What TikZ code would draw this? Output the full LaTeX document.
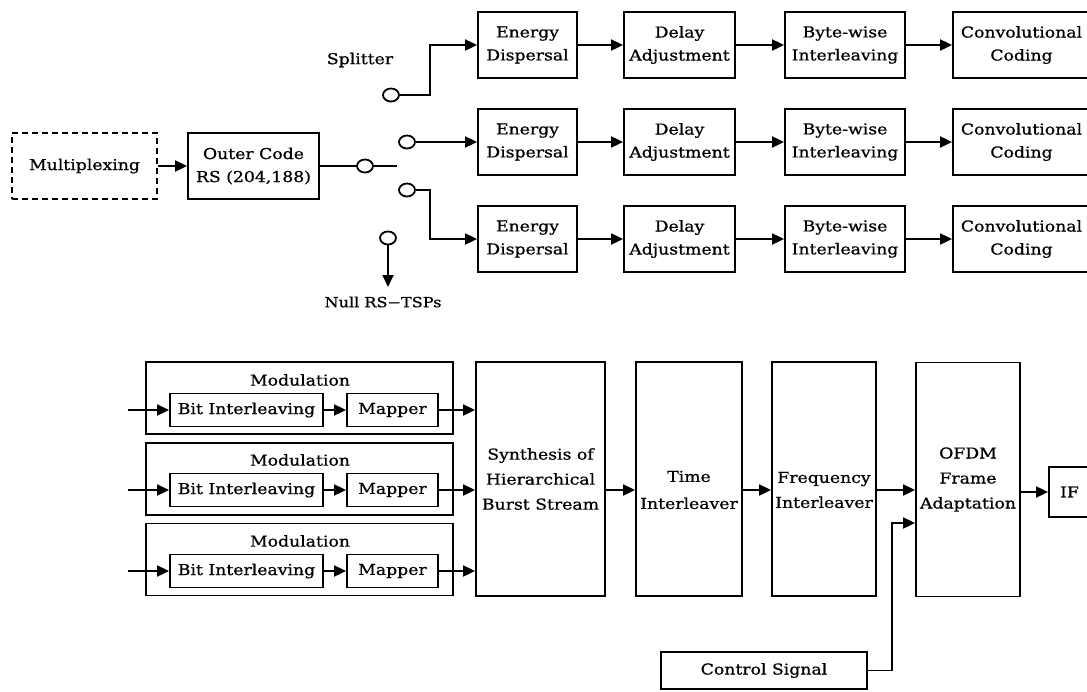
\documentclass[tikz,border=0pt]{standalone}
\usepackage{fontspec}
\setmainfont{DejaVu Serif}[FakeStretch=1.15,FakeBold=0.8]
\usetikzlibrary{arrows.meta,shapes.geometric}
\begin{document}
\begin{tikzpicture}[x=1pt,y=-1pt,line width=1.8pt,
  box/.style={draw,align=center,inner sep=0pt,font=\fontsize{15}{23}\selectfont},
  txt/.style={align=center,inner sep=0pt,font=\fontsize{15}{23}\selectfont},
  circ/.style={draw,ellipse,minimum width=16pt,minimum height=13pt,inner sep=0pt,fill=white},
  arr/.style={-{Triangle[length=12pt,width=11pt]}},
  eb/.style={box,minimum width=99pt,minimum height=66pt},
  db/.style={box,minimum width=111pt,minimum height=66pt},
  bb/.style={box,minimum width=120pt,minimum height=66pt},
  cb/.style={box,minimum width=137pt,minimum height=66pt},
  modbox/.style={draw,minimum width=307pt,minimum height=72pt},
  bib/.style={box,minimum width=153pt,minimum height=33pt},
  mpb/.style={box,minimum width=91pt,minimum height=33pt},
  tall/.style={box,minimum height=234pt}]
\useasboundingbox (0,0) rectangle (1087,691);
\clip (0,0) rectangle (1087,691);

% ---------- top section ----------
\node[box,dash pattern=on 6pt off 4pt,minimum width=145pt,minimum height=66pt] (mux) at (84.5,166) {Multiplexing};
\node[box,minimum width=131pt,minimum height=66pt] (outer) at (253.5,166) {Outer Code\\RS (204,188)};
\draw[arr] (mux) -- (outer);

\node[circ] (c0) at (365,166) {};
\coordinate (sw) at (397,166);
\draw (outer.east) -- (c0) -- (sw);

\node[circ] (cS) at (391,95) {};
\node[circ] (cU) at (407,142) {};
\node[circ] (cL) at (407,190) {};
\node[circ] (cN) at (388,238) {};
\node[txt] (split) at (360,60) {Splitter};
\node[txt,font=\fontsize{14}{16}\selectfont] (nullt) at (383,302) {Null RS−TSPs};

\foreach \r/\y in {1/45,2/142,3/239}{
  \node[eb] (E\r) at (527.5,\y) {Energy\\Dispersal};
  \node[db] (D\r) at (679.5,\y) {Delay\\Adjustment};
  \node[bb] (B\r) at (845,\y) {Byte-wise\\Interleaving};
  \node[cb] (C\r) at (1021.5,\y) {Convolutional\\Coding};
  \draw[arr] (E\r) -- (D\r);
  \draw[arr] (D\r) -- (B\r);
  \draw[arr] (B\r) -- (C\r);
}

\coordinate (jS) at (430,95);
\coordinate (jL) at (430,190);
\coordinate (nEnd) at (388,287);
\draw[arr] (cS) -- (jS) |- (E1.west);
\draw[arr] (cU) -- (E2.west);
\draw[arr] (cL) -- (jL) |- (E3.west);
\draw[arr] (cN) -- (nEnd);

% ---------- bottom section ----------
\foreach \r/\yc/\y in {1/398/410,2/479/490,3/559.5/571}{
  \node[modbox] (mod\r) at (299.5,\yc) {};
  \node[txt] (ml\r) at (300,\y-30) {Modulation};
  \node[bib] (bi\r) at (246.5,\y) {Bit Interleaving};
  \node[mpb] (mp\r) at (392.5,\y) {Mapper};
  \coordinate (in\r) at (128,\y);
  \draw[arr] (in\r) -- (bi\r);
  \draw[arr] (bi\r) -- (mp\r);
}

\node[tall,minimum width=129pt,font=\fontsize{15}{25}\selectfont] (syn) at (540.5,479) {Synthesis of\\Hierarchical\\Burst Stream};
\node[tall,minimum width=106pt] (time) at (689,479) {};
\node[txt,font=\fontsize{15}{27}\selectfont] (timet) at (689,490) {Time\\Interleaver};
\node[tall,minimum width=104pt] (freq) at (824,479) {};
\node[txt,font=\fontsize{15}{25}\selectfont] (freqt) at (824,490) {Frequency\\Interleaver};
\node[tall,minimum width=104pt,font=\fontsize{15}{25}\selectfont] (ofdm) at (968,479.5) {OFDM\\Frame\\Adaptation};
\node[box,minimum width=41pt,minimum height=50pt] (IF) at (1069.5,492) {IF};
\node[box,minimum width=206pt,minimum height=37pt] (ctrl) at (764,670.5) {Control Signal};

\foreach \r in {1,2,3}{
  \draw[arr] (mp\r) -- (syn.west |- mp\r);
}
\draw[arr] (syn.east |- bi2) -- (time.west |- bi2);
\draw[arr] (time.east |- bi2) -- (freq.west |- bi2);
\draw[arr] (freq.east |- bi2) -- (ofdm.west |- bi2);
\draw[arr] (ofdm.east |- IF) -- (IF.west);
\coordinate (jC) at (892,523);
\draw[arr] (ctrl.east) -| (jC) -- (ofdm.west |- jC);
\end{tikzpicture}
\end{document}
